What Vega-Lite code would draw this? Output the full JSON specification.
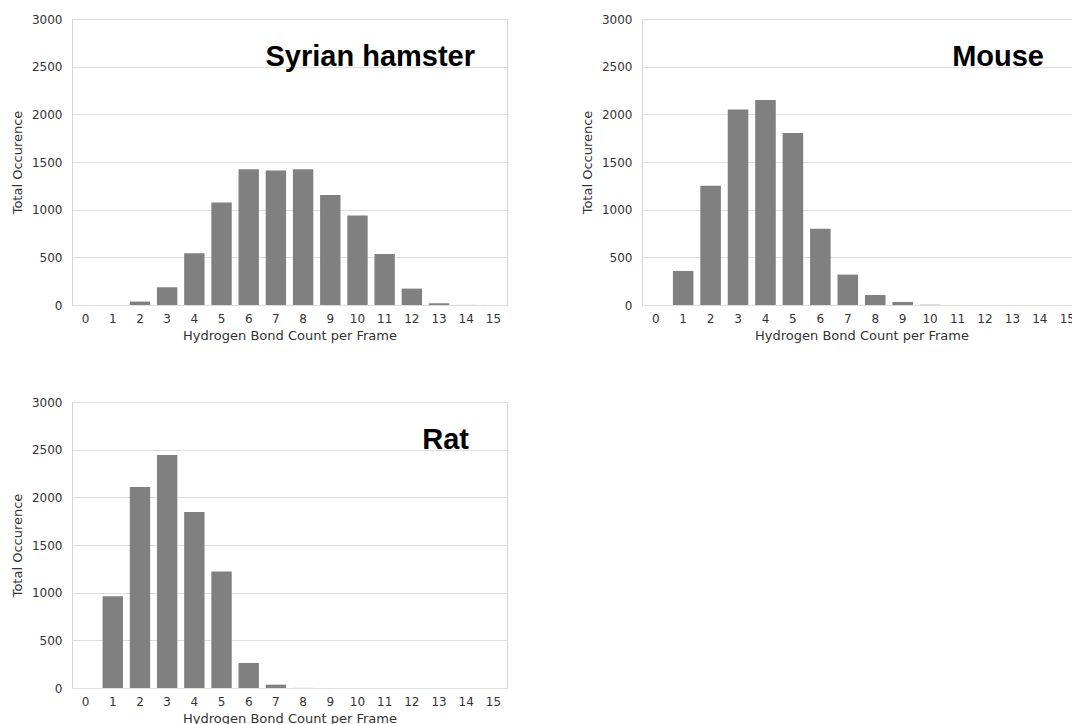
{
  "$schema": "https://vega.github.io/schema/vega-lite/v6.json",
  "padding": {"left": 10, "top": 12, "right": 0, "bottom": 0},
  "background": "white",
  "data": {
    "values": [
      {"species": "Syrian hamster", "bonds": 0, "occ": 0},
      {"species": "Syrian hamster", "bonds": 1, "occ": 0},
      {"species": "Syrian hamster", "bonds": 2, "occ": 36},
      {"species": "Syrian hamster", "bonds": 3, "occ": 186},
      {"species": "Syrian hamster", "bonds": 4, "occ": 543},
      {"species": "Syrian hamster", "bonds": 5, "occ": 1076},
      {"species": "Syrian hamster", "bonds": 6, "occ": 1423},
      {"species": "Syrian hamster", "bonds": 7, "occ": 1410},
      {"species": "Syrian hamster", "bonds": 8, "occ": 1423},
      {"species": "Syrian hamster", "bonds": 9, "occ": 1153},
      {"species": "Syrian hamster", "bonds": 10, "occ": 939},
      {"species": "Syrian hamster", "bonds": 11, "occ": 536},
      {"species": "Syrian hamster", "bonds": 12, "occ": 172},
      {"species": "Syrian hamster", "bonds": 13, "occ": 18},
      {"species": "Syrian hamster", "bonds": 14, "occ": 1},
      {"species": "Syrian hamster", "bonds": 15, "occ": 0},
      {"species": "Mouse", "bonds": 0, "occ": 0},
      {"species": "Mouse", "bonds": 1, "occ": 357},
      {"species": "Mouse", "bonds": 2, "occ": 1251},
      {"species": "Mouse", "bonds": 3, "occ": 2050},
      {"species": "Mouse", "bonds": 4, "occ": 2150},
      {"species": "Mouse", "bonds": 5, "occ": 1803},
      {"species": "Mouse", "bonds": 6, "occ": 799},
      {"species": "Mouse", "bonds": 7, "occ": 319},
      {"species": "Mouse", "bonds": 8, "occ": 105},
      {"species": "Mouse", "bonds": 9, "occ": 32},
      {"species": "Mouse", "bonds": 10, "occ": 3},
      {"species": "Mouse", "bonds": 11, "occ": 0},
      {"species": "Mouse", "bonds": 12, "occ": 0},
      {"species": "Mouse", "bonds": 13, "occ": 0},
      {"species": "Mouse", "bonds": 14, "occ": 0},
      {"species": "Mouse", "bonds": 15, "occ": 0},
      {"species": "Rat", "bonds": 0, "occ": 0},
      {"species": "Rat", "bonds": 1, "occ": 963},
      {"species": "Rat", "bonds": 2, "occ": 2108},
      {"species": "Rat", "bonds": 3, "occ": 2444},
      {"species": "Rat", "bonds": 4, "occ": 1845},
      {"species": "Rat", "bonds": 5, "occ": 1222},
      {"species": "Rat", "bonds": 6, "occ": 263},
      {"species": "Rat", "bonds": 7, "occ": 35},
      {"species": "Rat", "bonds": 8, "occ": 1},
      {"species": "Rat", "bonds": 9, "occ": 0},
      {"species": "Rat", "bonds": 10, "occ": 0},
      {"species": "Rat", "bonds": 11, "occ": 0},
      {"species": "Rat", "bonds": 12, "occ": 0},
      {"species": "Rat", "bonds": 13, "occ": 0},
      {"species": "Rat", "bonds": 14, "occ": 0},
      {"species": "Rat", "bonds": 15, "occ": 0}
    ]
  },
  "columns": 2,
  "spacing": {"column": 72, "row": 52},
  "concat": [
    {
      "width": 435, "height": 286,
      "title": {"text": "Syrian hamster", "dx": -32, "offset": -59},
      "transform": [{"filter": "datum.species === 'Syrian hamster'"}],
      "mark": {"type": "bar", "color": "#808080"},
      "encoding": {
        "x": {"field": "bonds", "type": "ordinal", "title": "Hydrogen Bond Count per Frame"},
        "y": {"field": "occ", "type": "quantitative", "title": "Total Occurence", "scale": {"domain": [0, 3000]}}
      }
    },
    {
      "width": 439, "height": 286,
      "title": {"text": "Mouse", "dx": -37, "offset": -59},
      "transform": [{"filter": "datum.species === 'Mouse'"}],
      "mark": {"type": "bar", "color": "#808080"},
      "encoding": {
        "x": {"field": "bonds", "type": "ordinal", "title": "Hydrogen Bond Count per Frame"},
        "y": {"field": "occ", "type": "quantitative", "title": "Total Occurence", "scale": {"domain": [0, 3000]}}
      }
    },
    {
      "width": 435, "height": 286,
      "title": {"text": "Rat", "dx": -38, "offset": -59},
      "transform": [{"filter": "datum.species === 'Rat'"}],
      "mark": {"type": "bar", "color": "#808080"},
      "encoding": {
        "x": {"field": "bonds", "type": "ordinal", "title": "Hydrogen Bond Count per Frame"},
        "y": {"field": "occ", "type": "quantitative", "title": "Total Occurence", "scale": {"domain": [0, 3000]}}
      }
    }
  ],
  "config": {
    "view": {"stroke": "#d4d4d4", "strokeWidth": 1},
    "scale": {"bandPaddingInner": 0.25, "bandPaddingOuter": 0.125},
    "title": {
      "anchor": "end", "frame": "group", "orient": "top",
      "font": "Liberation Sans", "fontSize": 29, "fontWeight": "bold",
      "color": "#000000", "baseline": "alphabetic"
    },
    "axis": {
      "labelFont": "DejaVu Sans", "labelFontSize": 12, "labelColor": "#333333",
      "titleFont": "DejaVu Sans", "titleFontSize": 13, "titleFontWeight": "normal", "titleColor": "#333333",
      "ticks": false, "domain": false, "gridColor": "#dedede", "gridWidth": 1
    },
    "axisX": {"labelAngle": 0, "labelPadding": 8, "titlePadding": 5, "grid": false},
    "axisY": {"labelPadding": 10, "titlePadding": 7, "format": "d", "values": [0, 500, 1000, 1500, 2000, 2500, 3000]},
    "axisQuantitative": {"grid": true}
  },
  "resolve": {"scale": {"y": "independent"}}
}
